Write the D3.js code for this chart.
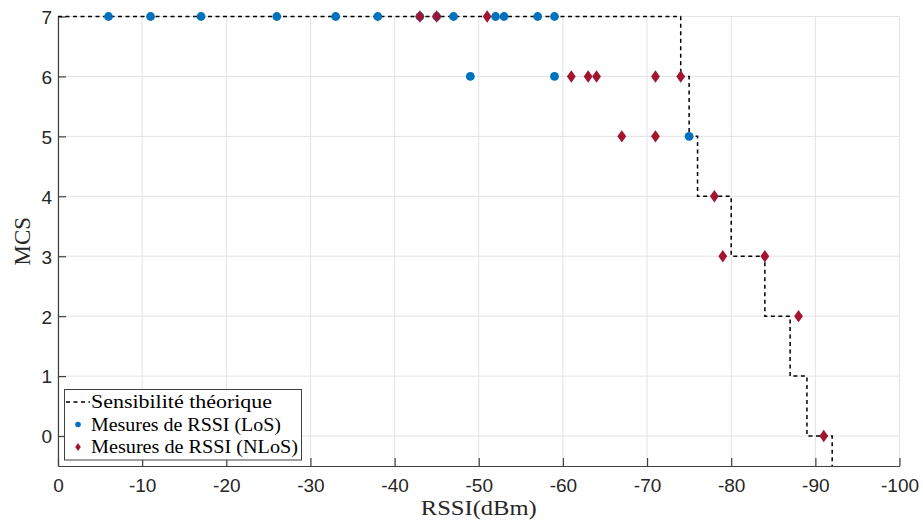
<!DOCTYPE html>
<html><head><meta charset="utf-8">
<script src="https://cdn.jsdelivr.net/npm/d3@7"></script>
<style>body{margin:0;background:#fff}svg{display:block}</style>
</head><body><svg id="c" width="923" height="522"></svg>
<script>
// Theoretical sensitivity thresholds (stair) and MCS levels
const sensX = [0, -74, -75, -76, -80, -84, -87, -89, -92];
const sensY = [7, 6, 5, 4, 3, 2, 1, 0, -0.5];
// LoS measurements
const losX = [-6, -11, -17, -26, -33, -38, -43, -45, -47, -52, -53, -57, -59, -49, -59, -75];
const losY = [7, 7, 7, 7, 7, 7, 7, 7, 7, 7, 7, 7, 7, 6, 6, 5];
// NLoS measurements
const nlosX = [-43, -45, -51, -61, -63, -64, -71, -74, -67, -71, -78, -79, -84, -88, -91];
const nlosY = [7, 7, 7, 6, 6, 6, 6, 6, 5, 5, 4, 3, 3, 2, 0];
const xTicks = [0, -10, -20, -30, -40, -50, -60, -70, -80, -90, -100];
const yTicks = [0, 1, 2, 3, 4, 5, 6, 7];
const legendLabels = ["Sensibilité théorique", "Mesures de RSSI (LoS)", "Mesures de RSSI (NLoS)"];

const svg = d3.select("#c");
const L = 58, R = 899.5, T = 16.5, B = 466;
const x = d3.scaleLinear().domain([0, -100]).range([L, R]);
const y = d3.scaleLinear().domain([-0.5, 7]).range([B, T]);
const axisCol = "#404040", textCol = "#262626";
const blue = "#0072BD", red = "#A2142F";

// grid
const g = svg.append("g");
g.selectAll(".gx").data(xTicks).join("line")
  .attr("x1", d => x(d)).attr("x2", d => x(d)).attr("y1", T).attr("y2", B)
  .attr("stroke", "#e3e3e3").attr("stroke-width", 1);
g.selectAll(".gy").data(yTicks).join("line")
  .attr("y1", d => y(d)).attr("y2", d => y(d)).attr("x1", L).attr("x2", R)
  .attr("stroke", "#e3e3e3").attr("stroke-width", 1);

// axes
const xAxis = d3.axisBottom(x).tickValues(xTicks).tickSizeInner(-8).tickSizeOuter(0).tickPadding(13).tickFormat(d => String(d));
const yAxis = d3.axisLeft(y).tickValues(yTicks).tickSizeInner(-8).tickSizeOuter(0).tickPadding(6).tickFormat(d => String(d));
const gx = svg.append("g").attr("transform", `translate(0,${B})`).call(xAxis);
const gy = svg.append("g").attr("transform", `translate(${L},0)`).call(yAxis);
[gx, gy].forEach(a => {
  a.select(".domain").attr("stroke", axisCol).attr("stroke-width", 1.2);
  a.selectAll(".tick line").attr("stroke", axisCol).attr("stroke-width", 1.2);
  a.selectAll(".tick text").attr("fill", textCol).style("font-family", "'Liberation Sans', Arial, sans-serif").style("font-size", "19px");
});
gx.selectAll(".tick text").attr("dy", "0.71em");
gy.selectAll(".tick text").attr("dy", "0.36em");

// axis labels
const serif = "'Liberation Serif', 'DejaVu Serif', serif";
svg.append("text").attr("x", (L + R) / 2).attr("y", 515).attr("text-anchor", "middle")
  .attr("textLength", 116).attr("lengthAdjust", "spacingAndGlyphs")
  .attr("fill", textCol).style("font-family", serif).style("font-size", "21px").text("RSSI(dBm)");
svg.append("text").attr("transform", `translate(30,${(T + B) / 2}) rotate(-90)`).attr("text-anchor", "middle")
  .attr("fill", textCol).style("font-family", serif).style("font-size", "23px").text("MCS");

// stair line
const stair = d3.line().x((d, i) => x(sensX[i])).y((d, i) => y(sensY[i])).curve(d3.curveStepAfter);
svg.append("path").attr("d", stair(sensX)).attr("fill", "none").attr("stroke", "#000")
  .attr("stroke-width", 1.5).attr("stroke-dasharray", "4,3.5");

// LoS circles
svg.append("g").selectAll("circle").data(losX).join("circle")
  .attr("cx", d => x(d)).attr("cy", (d, i) => y(losY[i])).attr("r", 4.4).attr("fill", blue);

// NLoS diamonds
const diamond = (cx, cy, w, h) => `M${cx},${cy - h}L${cx + w},${cy}L${cx},${cy + h}L${cx - w},${cy}Z`;
svg.append("g").selectAll("path").data(nlosX).join("path")
  .attr("d", (d, i) => diamond(x(d), y(nlosY[i]), 4.4, 6.2)).attr("fill", red);

// legend
const lg = svg.append("g");
lg.append("rect").attr("x", 64.5).attr("y", 389.5).attr("width", 237).attr("height", 70.5)
  .attr("fill", "#fff").attr("stroke", axisCol).attr("stroke-width", 1);
const rows = [402, 424.5, 447];
lg.append("line").attr("x1", 66).attr("x2", 90).attr("y1", rows[0]).attr("y2", rows[0])
  .attr("stroke", "#000").attr("stroke-width", 1.5).attr("stroke-dasharray", "4,3.5");
lg.append("circle").attr("cx", 78).attr("cy", rows[1]).attr("r", 2.8).attr("fill", blue);
lg.append("path").attr("d", diamond(78, rows[2], 2.8, 4)).attr("fill", red);
const legendWidths = [181, 190, 207];
lg.selectAll("text").data(legendLabels).join("text")
  .attr("x", 91).attr("y", (d, i) => rows[i] + 6)
  .attr("textLength", (d, i) => legendWidths[i]).attr("lengthAdjust", "spacingAndGlyphs")
  .attr("fill", "#000").style("font-family", serif).style("font-size", "19px").text(d => d);
</script></body></html>
